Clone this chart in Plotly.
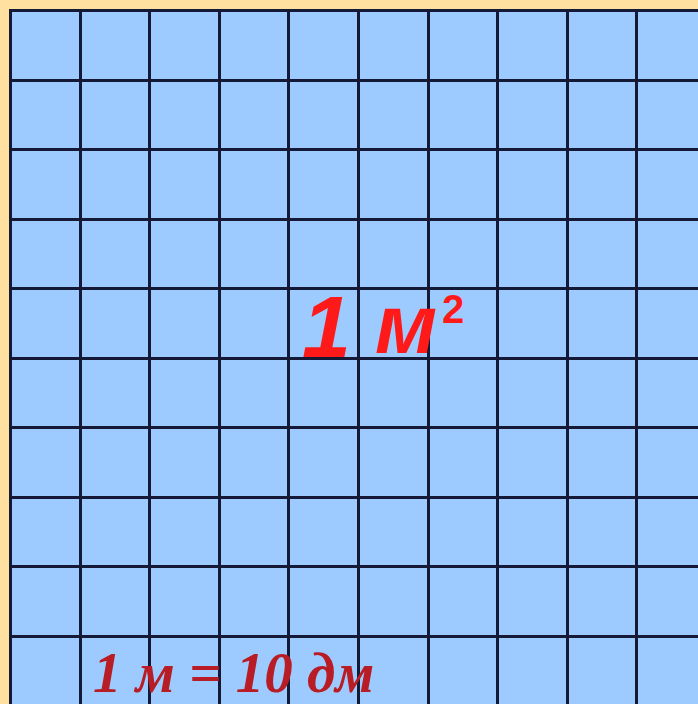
import plotly.graph_objects as go

# Grid data: a 10 x 10 square metre split into square decimetres
n_cols = 10
n_rows = 10
col_edges = list(range(0, n_cols + 1))
row_edges = list(range(0, n_rows + 1))
area_label = ["1", "м", "2"]
relation_label = "1 м = 10 дм"

W, H = 698, 704
CELL_X = 69.6
CELL_Y = 69.56
OX, OY = 10.5, 10.5
ML, MT = 9, 9

def dx(px):
    return (px - OX) / CELL_X

def dy(py):
    return (py - OY) / CELL_Y

x0 = dx(ML)
x1 = dx(W)
y0 = dy(MT)
y1 = dy(H)

fig = go.Figure()
fig.add_trace(go.Scatter(x=[c + 0.5 for c in col_edges[:-1]],
                         y=[r + 0.5 for r in row_edges[:-1]],
                         mode="markers", marker=dict(opacity=0),
                         hoverinfo="skip", showlegend=False))

line_col = "#141a36"
fig.update_xaxes(range=[x0, x1], tick0=0, dtick=1, showgrid=True,
                 gridcolor=line_col, gridwidth=2.6, showticklabels=False,
                 zeroline=False, showline=False, ticks="")
fig.update_yaxes(range=[y1, y0], tick0=0, dtick=1, showgrid=True,
                 gridcolor=line_col, gridwidth=2.6, showticklabels=False,
                 zeroline=False, showline=False, ticks="")

red = "#ff1a1a"
hand_font = "Liberation Sans"
fig.add_annotation(x=dx(326), y=dy(326), text="<b><i>" + area_label[0] + "</i></b>",
                   showarrow=False, font=dict(family=hand_font, size=88, color=red),
                   xanchor="center", yanchor="middle")
fig.add_annotation(x=dx(406), y=dy(324), text="<b><i>" + area_label[1] + "</i></b>",
                   showarrow=False, font=dict(family=hand_font, size=84, color=red),
                   xanchor="center", yanchor="middle")
fig.add_annotation(x=dx(453), y=dy(309), text="<b>" + area_label[2] + "</b>",
                   showarrow=False, font=dict(family=hand_font, size=40, color=red),
                   xanchor="center", yanchor="middle")

fig.add_annotation(x=dx(233), y=dy(672), text="<b><i>" + relation_label + "</i></b>",
                   showarrow=False,
                   font=dict(family="Liberation Serif", size=57, color="#b81c24"),
                   xanchor="center", yanchor="middle")

fig.update_layout(width=W, height=H, margin=dict(l=ML, r=0, t=MT, b=0),
                  paper_bgcolor="#ffe0a0", plot_bgcolor="#9dcbff",
                  showlegend=False)

fig.write_html("out.html",
               config={"displayModeBar": False},
               post_script="document.body.style.margin='0';"
                           "document.body.style.background='#ffe0a0';")
